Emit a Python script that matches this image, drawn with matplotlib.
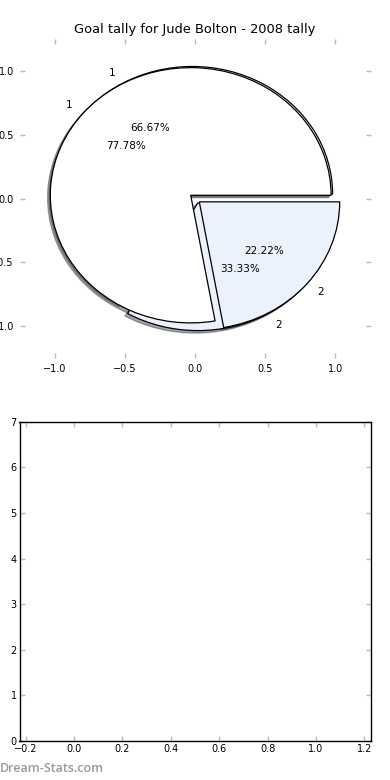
import numpy as np
import matplotlib
matplotlib.use("Agg")
import matplotlib.pyplot as plt

# goal tallies
labels = ["1", "2"]
tally_a = [6, 3]   # 66.67% / 33.33%
tally_b = [7, 2]   # 77.78% / 22.22%
colours = ["#FFFFFF", "#EBF1FD"]
explode = [0.04, 0.04]

pie_ticks = [-1.0, -0.5, 0.0, 0.5, 1.0]
bar_xticks = [-0.2, 0.0, 0.2, 0.4, 0.6, 0.8, 1.0, 1.2]
bar_yticks = [0, 1, 2, 3, 4, 5, 6, 7]

TICK_GREY = "#BBBBBB"

fig = plt.figure(figsize=(3.9, 7.8), dpi=100)
plt.subplots_adjust(left=0.05, right=0.95, top=0.95, bottom=0.05, hspace=0.2)

ax_pie = fig.add_subplot(211)
for vals in (tally_a, tally_b):
    ax_pie.pie(vals, labels=labels, colors=colours, explode=explode,
               autopct="%1.2f%%", startangle=0,
               shadow={"ox": -0.014, "oy": -0.014},
               wedgeprops={"edgecolor": "black", "linewidth": 0.9},
               textprops={"fontsize": 7.5})

ax_pie.set_aspect("auto")
ax_pie.set_frame_on(False)
ax_pie.set_xlim(-1.25, 1.25)
ax_pie.set_ylim(-1.25, 1.25)
ax_pie.set_xticks(pie_ticks)
ax_pie.set_yticks(pie_ticks)
ax_pie.tick_params(direction="in", length=3.5, width=1, color=TICK_GREY,
                   labelsize=7, top=True, right=True, pad=4)
ax_pie.set_title("Goal tally for Jude Bolton - 2008 tally", fontsize=9.4, pad=4)

ax_bar = fig.add_subplot(212)
ax_bar.set_xlim(-0.225, 1.225)
ax_bar.set_ylim(0, 7)
ax_bar.set_xticks(bar_xticks)
ax_bar.set_yticks(bar_yticks)
ax_bar.tick_params(direction="in", length=3.5, width=1, color=TICK_GREY,
                   labelsize=7, top=True, right=True, pad=2)
for s in ax_bar.spines.values():
    s.set_linewidth(1)

# watermark in the bottom-left corner
fig.text(0.0, 1 - 769 / 780, "Dream-Stats.com", fontsize=9, color="#999999",
         family="Open Sans", fontweight="semibold", ha="left", va="center")

fig.savefig("out.png", dpi=100)
